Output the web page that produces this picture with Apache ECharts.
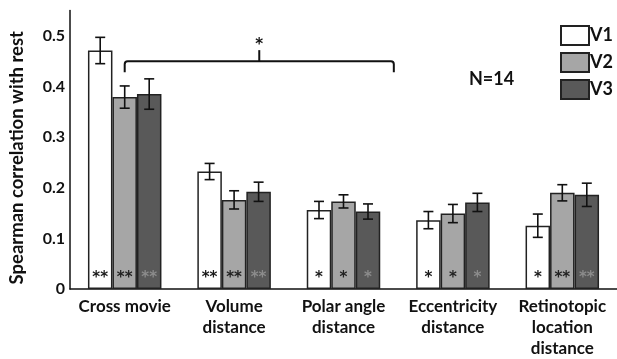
<!DOCTYPE html>
<html>
<head>
<meta charset="utf-8">
<script src="https://cdn.jsdelivr.net/npm/echarts@6/dist/echarts.min.js"></script>
<style>
html,body{margin:0;padding:0;background:#fff;}
#chart{width:617px;height:359px;}
</style>
</head>
<body>
<div id="chart"></div>
<script>
// 类别
var categories = ['Cross movie', 'Volume\ndistance', 'Polar angle\ndistance', 'Eccentricity\ndistance', 'Retinotopic\nlocation\ndistance'];
var seriesNames = ['V1', 'V2', 'V3'];
// 均值
var v1 = [0.471, 0.232, 0.156, 0.136, 0.125];
var v2 = [0.379, 0.176, 0.173, 0.149, 0.190];
var v3 = [0.385, 0.192, 0.153, 0.171, 0.186];
// 误差
var v1Err = [0.026, 0.016, 0.017, 0.017, 0.023];
var v2Err = [0.022, 0.018, 0.013, 0.018, 0.016];
var v3Err = [0.030, 0.019, 0.015, 0.018, 0.023];
// 显著性
var v1Stars = ['**', '**', '*', '*', '*'];
var v2Stars = ['**', '**', '*', '*', '**'];
var v3Stars = ['**', '**', '*', '*', '**'];
// 括号 (起始类别位置, 结束类别位置, 高度)
var bracket = [[0, 2.46, 0.45]];
var bracketLabel = '*';
var yTicks = [0, 0.1, 0.2, 0.3, 0.4, 0.5];

var FONT = 'Lato';
var barW = 24.5;
var colors = ['#ffffff', '#a6a6a6', '#595959'];
var starColors = ['#1a1a1a', '#222222', '#8c8c8c'];
var means = [v1, v2, v3];
var errs = [v1Err, v2Err, v3Err];
var stars = [v1Stars, v2Stars, v3Stars];

var chart = echarts.init(document.getElementById('chart'));

var series = [];
for (var k = 0; k < 3; k++) {
	(function(k){
		series.push({
			name: seriesNames[k],
			type: 'bar',
			data: means[k],
			barWidth: barW,
			barGap: '0%',
			itemStyle: {color: colors[k], borderColor: '#222', borderWidth: 1.5},
			label: {
				show: true,
				position: 'insideBottom',
				distance: 3,
				fontFamily: 'DejaVu Sans',
				fontSize: 15,
				fontWeight: 'bold',
				color: starColors[k],
				formatter: function(p){ return stars[k][p.dataIndex]; }
			},
			emphasis: {disabled: true},
			z: 2
		});
	})(k);
}

// 误差线
var errData = [];
for (var k = 0; k < 3; k++) {
	for (var i = 0; i < categories.length; i++) {
		errData.push([i, k, means[k][i], errs[k][i]]);
	}
}
series.push({
	name: 'err',
	type: 'custom',
	data: errData,
	z: 5,
	clip: false,
	renderItem: function(params, api){
		var c = api.value(0), k = api.value(1), m = api.value(2), e = api.value(3);
		var top = api.coord([c, m + e]);
		var bot = api.coord([c, m - e]);
		var x = top[0] + (k - 1) * barW;
		var hw = 5;
		var st = {stroke: '#111', lineWidth: 1.6};
		return {type: 'group', children: [
			{type: 'line', shape: {x1: x, y1: top[1], x2: x, y2: bot[1]}, style: st},
			{type: 'line', shape: {x1: x - hw, y1: top[1], x2: x + hw, y2: top[1]}, style: st},
			{type: 'line', shape: {x1: x - hw, y1: bot[1], x2: x + hw, y2: bot[1]}, style: st}
		]};
	}
});

// 括号
series.push({
	name: 'bracket',
	type: 'custom',
	data: bracket,
	z: 5,
	clip: false,
	renderItem: function(params, api){
		var a = api.value(0), b = api.value(1), y = api.value(2);
		var p0 = api.coord([0, y]), p1 = api.coord([1, y]);
		var step = p1[0] - p0[0];
		var x0 = p0[0] + a * step, x1 = p0[0] + b * step, yy = p0[1];
		var xm = (x0 + x1) / 2;
		var hook = 11, r = 3;
		var st = {stroke: '#111', lineWidth: 2, fill: null};
		var path = 'M' + x0 + ' ' + (yy + hook) + ' L' + x0 + ' ' + (yy + r) +
			' Q' + x0 + ' ' + yy + ' ' + (x0 + r) + ' ' + yy +
			' L' + (x1 - r) + ' ' + yy + ' Q' + x1 + ' ' + yy + ' ' + x1 + ' ' + (yy + r) +
			' L' + x1 + ' ' + (yy + hook);
		return {type: 'group', children: [
			{type: 'path', shape: {pathData: path}, style: st},
			{type: 'line', shape: {x1: xm, y1: yy, x2: xm, y2: yy - 11}, style: {stroke: '#111', lineWidth: 2}},
			{type: 'text', x: xm, y: yy - 9, style: {text: bracketLabel, fill: '#111', font: 'bold 15px "DejaVu Sans"', align: 'center', verticalAlign: 'bottom'}}
		]};
	}
});

var option = {
	animation: false,
	backgroundColor: '#fff',
	title: {
		text: 'N=14',
		left: 464,
		top: 65,
		textStyle: {fontFamily: FONT, fontSize: 18, fontWeight: 'bold', color: '#111'}
	},
	legend: {
		data: seriesNames,
		orient: 'vertical',
		left: 555,
		top: 20,
		itemWidth: 28,
		itemHeight: 19,
		itemGap: 6,
		icon: 'rect',
		textStyle: {fontFamily: FONT, fontSize: 18, fontWeight: 'bold', color: '#111', padding: [0, 0, 0, -4]},
		selectedMode: false
	},
	grid: {left: 70, right: 0, top: 10.5, bottom: 68, containLabel: false},
	xAxis: {
		type: 'category',
		data: categories,
		axisTick: {show: false},
		axisLine: {lineStyle: {color: '#111', width: 1.5}},
		axisLabel: {
			interval: 0,
			margin: 7,
			fontFamily: FONT,
			fontSize: 17,
			fontWeight: 'bold',
			lineHeight: 21,
			color: '#111'
		}
	},
	yAxis: {
		type: 'value',
		min: 0,
		max: 0.55,
		interval: 0.1,
		name: 'Spearman correlation with rest',
		nameLocation: 'middle',
		nameGap: 43,
		nameTextStyle: {fontFamily: FONT, fontSize: 18.5, fontWeight: 'bold', color: '#111', padding: [0, 16, 0, 0]},
		axisLine: {show: true, lineStyle: {color: '#111', width: 1.5}},
		axisTick: {show: false},
		splitLine: {show: false},
		axisLabel: {
			margin: 5,
			fontFamily: FONT,
			fontSize: 16,
			fontWeight: 'bold',
			color: '#111',
			formatter: function(v){
				for (var i = 0; i < yTicks.length; i++) {
					if (Math.abs(yTicks[i] - v) < 1e-6) return String(yTicks[i]);
				}
				return '';
			}
		}
	},
	series: series
};
chart.setOption(option);
</script>
</body>
</html>
